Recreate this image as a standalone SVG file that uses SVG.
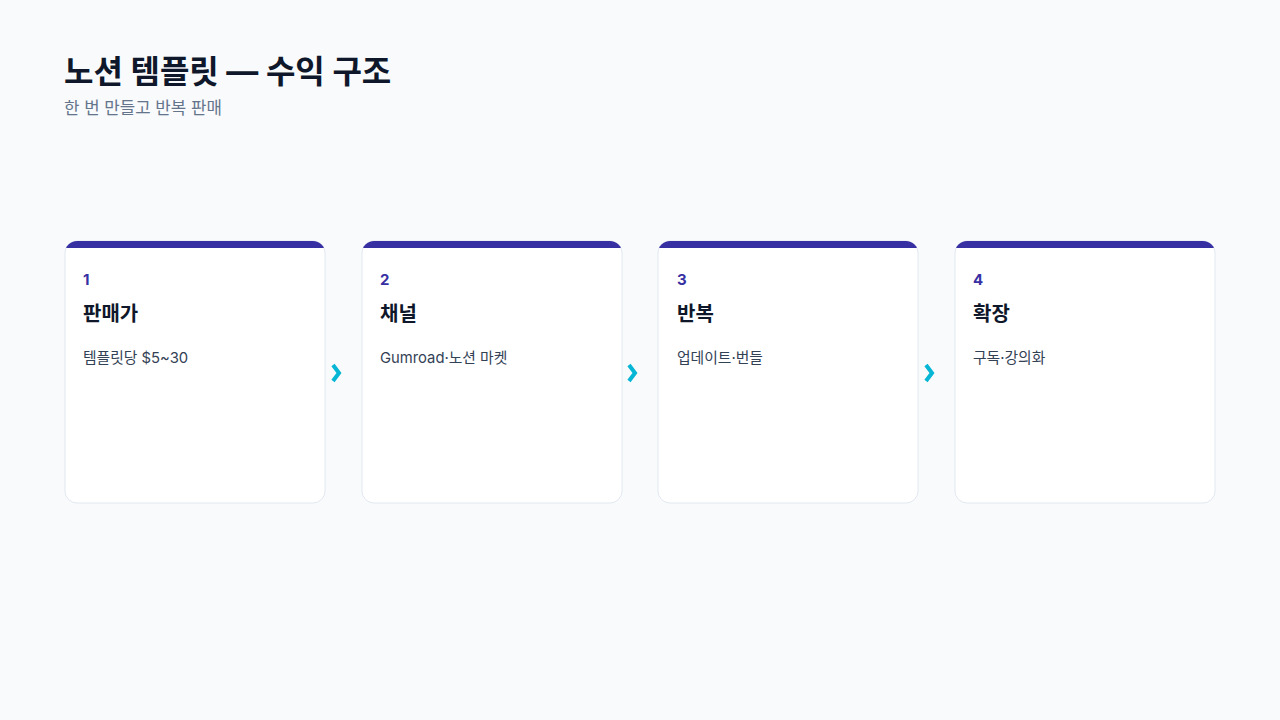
<svg xmlns="http://www.w3.org/2000/svg" width="1280" height="720" viewBox="0 0 1280 720">
<defs>
<style>
text{font-family:Inter,"Noto Sans CJK KR","Noto Sans",sans-serif}
.title{font-size:32px;font-weight:700;fill:#0f172a}
.sub{font-size:16.8px;fill:#64748b}
.card{fill:#ffffff;stroke:#e2e8f0;stroke-width:1}
.bar{fill:#3730a3}
.num{font-size:15px;font-weight:700;fill:#3730a3}
.head{font-size:20px;font-weight:700;fill:#0f172a}
.desc{font-size:14.8px;fill:#334155}
.chev{fill:none;stroke:#06b6d4;stroke-width:4;stroke-linecap:butt;stroke-linejoin:miter}
</style>
<clipPath id="c1"><rect x="65" y="241" width="260" height="262" rx="12"/></clipPath>
<clipPath id="c2"><rect x="362" y="241" width="260" height="262" rx="12"/></clipPath>
<clipPath id="c3"><rect x="658" y="241" width="260" height="262" rx="12"/></clipPath>
<clipPath id="c4"><rect x="955" y="241" width="260" height="262" rx="12"/></clipPath>
</defs>
<rect width="1280" height="720" fill="#f8fafc"/>
<text class="title" x="64" y="83">노션 템플릿 — 수익 구조</text>
<text class="sub" x="64" y="114">한 번 만들고 반복 판매</text>
<g id="node1">
<rect class="card" x="65" y="241" width="260" height="262" rx="12"/>
<rect class="bar" x="65" y="241" width="260" height="7" clip-path="url(#c1)"/>
<text class="num" x="83" y="285">1</text>
<text class="head" x="83" y="321">판매가</text>
<text class="desc" x="83" y="363">템플릿당 $5~30</text>
</g>
<g id="node2">
<rect class="card" x="362" y="241" width="260" height="262" rx="12"/>
<rect class="bar" x="362" y="241" width="260" height="7" clip-path="url(#c2)"/>
<text class="num" x="380" y="285">2</text>
<text class="head" x="380" y="321">채널</text>
<text class="desc" x="380" y="363">Gumroad·노션 마켓</text>
</g>
<g id="node3">
<rect class="card" x="658" y="241" width="260" height="262" rx="12"/>
<rect class="bar" x="658" y="241" width="260" height="7" clip-path="url(#c3)"/>
<text class="num" x="677" y="285">3</text>
<text class="head" x="677" y="321">반복</text>
<text class="desc" x="677" y="363">업데이트·번들</text>
</g>
<g id="node4">
<rect class="card" x="955" y="241" width="260" height="262" rx="12"/>
<rect class="bar" x="955" y="241" width="260" height="7" clip-path="url(#c4)"/>
<text class="num" x="973" y="285">4</text>
<text class="head" x="973" y="321">확장</text>
<text class="desc" x="973" y="363">구독·강의화</text>
</g>
<g id="connectors">
<polyline class="chev" points="333,365 339,373 333,381"/>
<polyline class="chev" points="629,365 635,373 629,381"/>
<polyline class="chev" points="926,365 932,373 926,381"/>
</g>
</svg>
